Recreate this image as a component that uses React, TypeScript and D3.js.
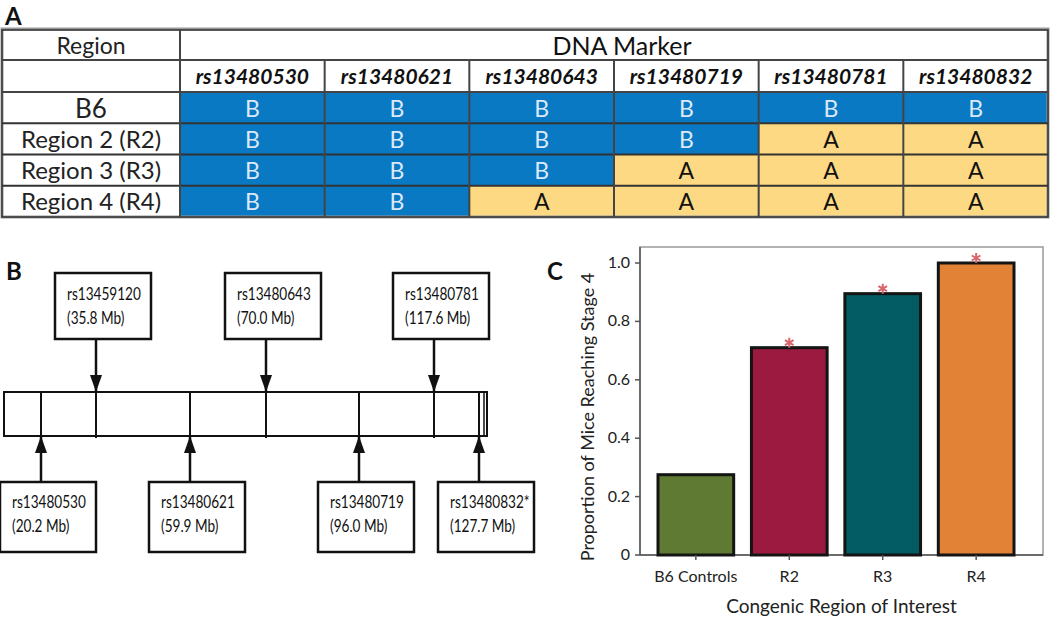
import React from 'react';
import * as d3 from 'd3';

// ---------- Panel A data ----------
const markers = ['rs13480530', 'rs13480621', 'rs13480643', 'rs13480719', 'rs13480781', 'rs13480832'];
const regions = ['B6', 'Region 2 (R2)', 'Region 3 (R3)', 'Region 4 (R4)'];
const genoB6 = ['B', 'B', 'B', 'B', 'B', 'B'];
const genoR2 = ['B', 'B', 'B', 'B', 'A', 'A'];
const genoR3 = ['B', 'B', 'B', 'A', 'A', 'A'];
const genoR4 = ['B', 'B', 'A', 'A', 'A', 'A'];
const genotypes = [genoB6, genoR2, genoR3, genoR4];

// ---------- Panel B data ----------
const chrMarkers = ['rs13480530', 'rs13459120', 'rs13480621', 'rs13480643', 'rs13480719', 'rs13480781', 'rs13480832*'];
const chrMb = [20.2, 35.8, 59.9, 70.0, 96.0, 117.6, 127.7];
const chrSide = ['below', 'above', 'below', 'above', 'below', 'above', 'below'];

// ---------- Panel C data ----------
const groups = ['B6 Controls', 'R2', 'R3', 'R4'];
const proportions = [0.275, 0.71, 0.895, 1.0];
const significant = [false, true, true, true];
const yTicks = [0, 0.2, 0.4, 0.6, 0.8, 1.0];

const FONT = 'Lato, "Open Sans", sans-serif';
const BLUE = '#0879c2';
const YELLOW = '#fcd982';
const barColors = ['#5e7a33', '#9c1a40', '#035b63', '#e28236'];

export default function App() {
  // ---- Panel A layout ----
  const tLeft = 2, tRight = 1048, tTop = 30, colSplit = 180;
  const headY = [30, 60, 92];
  const xCol = d3.scaleBand<string>().domain(markers).range([colSplit, tRight]);
  const yRow = d3.scaleBand<string>().domain(regions).range([92, 217]);
  const tBottom = 217;

  // ---- Panel B layout ----
  const chrL = 4, chrR = 487, chrT = 392, chrB = 436;
  const xChr = d3.scaleLinear().domain(chrMb).range([41, 96, 190, 266, 359, 434, 479]);
  const boxW = 96;

  // ---- Panel C layout ----
  const pL = 640, pR = 1043, pT = 247, pB = 555;
  const y = d3.scaleLinear().domain([0, 1]).range([pB, 263]);
  const x = d3.scaleBand<string>().domain(groups).range([658, 1014]).paddingInner(0.19);
  const fmt = (v: number) => (v === 0 ? '0' : d3.format('.1f')(v));
  const star = d3.symbol(d3.symbolAsterisk, 70)() as string;

  return (
    <svg width={1050} height={619} style={{ position: 'absolute', left: 0, top: 0, background: '#fff' }} fontFamily={FONT}>
      {/* ================= Panel A ================= */}
      <text x={5} y={25} fontSize={24} fontWeight={700} fill="#111">A</text>
      {regions.map((r, i) =>
        markers.map((m, j) => (
          <rect key={`c${i}${j}`} x={xCol(m)} y={yRow(r)} width={xCol.bandwidth()} height={yRow.bandwidth()}
            fill={genotypes[i][j] === 'B' ? BLUE : YELLOW} />
        ))
      )}
      <rect x={tLeft} y={tTop - 1} width={tRight - tLeft} height={tBottom - tTop + 1} fill="none" stroke="#999" strokeWidth={3} />
      <rect x={tLeft} y={tTop} width={tRight - tLeft} height={tBottom - tTop} fill="none" stroke="#333" strokeWidth={1.5} />
      <line x1={tLeft} x2={tRight} y1={headY[1]} y2={headY[1]} stroke="#444" strokeWidth={2} />
      <line x1={tLeft} x2={tRight} y1={headY[2]} y2={headY[2]} stroke="#444" strokeWidth={2} />
      {regions.slice(1).map(r => (
        <line key={r} x1={tLeft} x2={tRight} y1={yRow(r)} y2={yRow(r)} stroke="#333" strokeWidth={2} />
      ))}
      <line x1={colSplit} x2={colSplit} y1={tTop} y2={tBottom} stroke="#444" strokeWidth={2} />
      {markers.slice(1).map(m => (
        <line key={m} x1={xCol(m)} x2={xCol(m)} y1={headY[1]} y2={tBottom} stroke="#444" strokeWidth={2} />
      ))}
      <text x={(tLeft + colSplit) / 2} y={54} textAnchor="middle" fontSize={23} fill="#222">Region</text>
      <text x={622} y={55} textAnchor="middle" fontSize={25} fill="#111">DNA Marker</text>
      {markers.map(m => (
        <text key={m} x={(xCol(m) as number) + xCol.bandwidth() / 2} y={84} textAnchor="middle" fontSize={21}
          fontStyle="italic" fontWeight={700} fill="#111">{m}</text>
      ))}
      {regions.map((r, i) => (
        <text key={r} x={(tLeft + colSplit) / 2} y={(yRow(r) as number) + yRow.bandwidth() / 2 + (i === 0 ? 10 : 9)} textAnchor="middle"
          fontSize={i === 0 ? 26 : 24} fill="#222">{r}</text>
      ))}
      {regions.map((r, i) =>
        markers.map((m, j) => (
          <text key={`t${i}${j}`} x={(xCol(m) as number) + xCol.bandwidth() / 2} y={(yRow(r) as number) + yRow.bandwidth() / 2 + 9}
            textAnchor="middle" fontSize={23} fill={genotypes[i][j] === 'B' ? '#dde8f8' : '#111'}>{genotypes[i][j]}</text>
        ))
      )}

      {/* ================= Panel B ================= */}
      <text x={6} y={280} fontSize={24} fontWeight={700} fill="#111">B</text>
      <rect x={chrL} y={chrT} width={chrR - chrL} height={chrB - chrT} fill="#fff" stroke="#111" strokeWidth={2} />
      {chrMb.map((mb, i) => {
        const cx = xChr(mb);
        const above = chrSide[i] === 'above';
        const bx = cx + 7 - boxW / 2;
        const bTop = above ? 273 : 482;
        const bH = above ? 66 : 70;
        const arrow = above
          ? `M${cx - 6},${chrT - 17} L${cx + 6},${chrT - 17} L${cx},${chrT} Z`
          : `M${cx - 6},${chrB + 17} L${cx + 6},${chrB + 17} L${cx},${chrB} Z`;
        const tx = bx + 12;
        const ty1 = above ? bTop + 27 : bTop + 26;
        const label = chrMarkers[i];
        return (
          <g key={label}>
            <line x1={cx} x2={cx} y1={chrT} y2={chrB + 2} stroke="#111" strokeWidth={2} />
            <line x1={cx} x2={cx} y1={above ? bTop + bH : chrB} y2={above ? chrT : bTop} stroke="#111" strokeWidth={2.5} />
            <path d={arrow} fill="#111" />
            <rect x={bx} y={bTop} width={boxW} height={bH} fill="#fff" stroke="#111" strokeWidth={2.5} />
            <g transform={`translate(${tx},${ty1}) scale(0.8,1)`}>
              <text x={0} y={0} fontSize={17} fill="#111">{label}</text>
              <text x={0} y={24} fontSize={17} fill="#111">({d3.format('.1f')(mb)} Mb)</text>
            </g>
          </g>
        );
      })}
      <line x1={chrR - 3} x2={chrR - 3} y1={chrT} y2={chrB} stroke="#111" strokeWidth={1.5} />

      {/* ================= Panel C ================= */}
      <text x={547} y={280} fontSize={24} fontWeight={700} fill="#111">C</text>
      <rect x={pL} y={pT} width={pR - pL} height={pB - pT} fill="#fff" stroke="#999" strokeWidth={1.5} />
      <line x1={pL} x2={pL} y1={pT} y2={pB} stroke="#555" strokeWidth={1.5} />
      <line x1={pL} x2={pR} y1={pB} y2={pB} stroke="#555" strokeWidth={1.5} />
      {yTicks.map(t => (
        <g key={t}>
          <line x1={pL - 5} x2={pL} y1={y(t)} y2={y(t)} stroke="#555" strokeWidth={1.5} />
          <text x={pL - 10} y={y(t) + 5} textAnchor="end" fontSize={16} fill="#222">{fmt(t)}</text>
        </g>
      ))}
      {groups.map((g, i) => {
        const bx = x(g) as number;
        const cx = bx + x.bandwidth() / 2;
        return (
          <g key={g}>
            <rect x={bx} y={y(proportions[i])} width={x.bandwidth()} height={pB - y(proportions[i])}
              fill={barColors[i]} stroke="#141414" strokeWidth={3} />
            <line x1={cx} x2={cx} y1={pB} y2={pB + 5} stroke="#555" strokeWidth={1.5} />
            <text x={cx} y={pB + 27} textAnchor="middle" fontSize={16} fill="#222">{g}</text>
            {significant[i] && (
              <path d={star} transform={`translate(${cx},${y(proportions[i]) - 5})`} fill="none"
                stroke="#d9646a" strokeWidth={2} />
            )}
          </g>
        );
      })}
      <text transform={`translate(594,417) rotate(-90)`} textAnchor="middle" fontSize={18} fill="#222">
        Proportion of Mice Reaching Stage 4
      </text>
      <text x={(pL + pR) / 2} y={613} textAnchor="middle" fontSize={19} fill="#222">Congenic Region of Interest</text>
    </svg>
  );
}
